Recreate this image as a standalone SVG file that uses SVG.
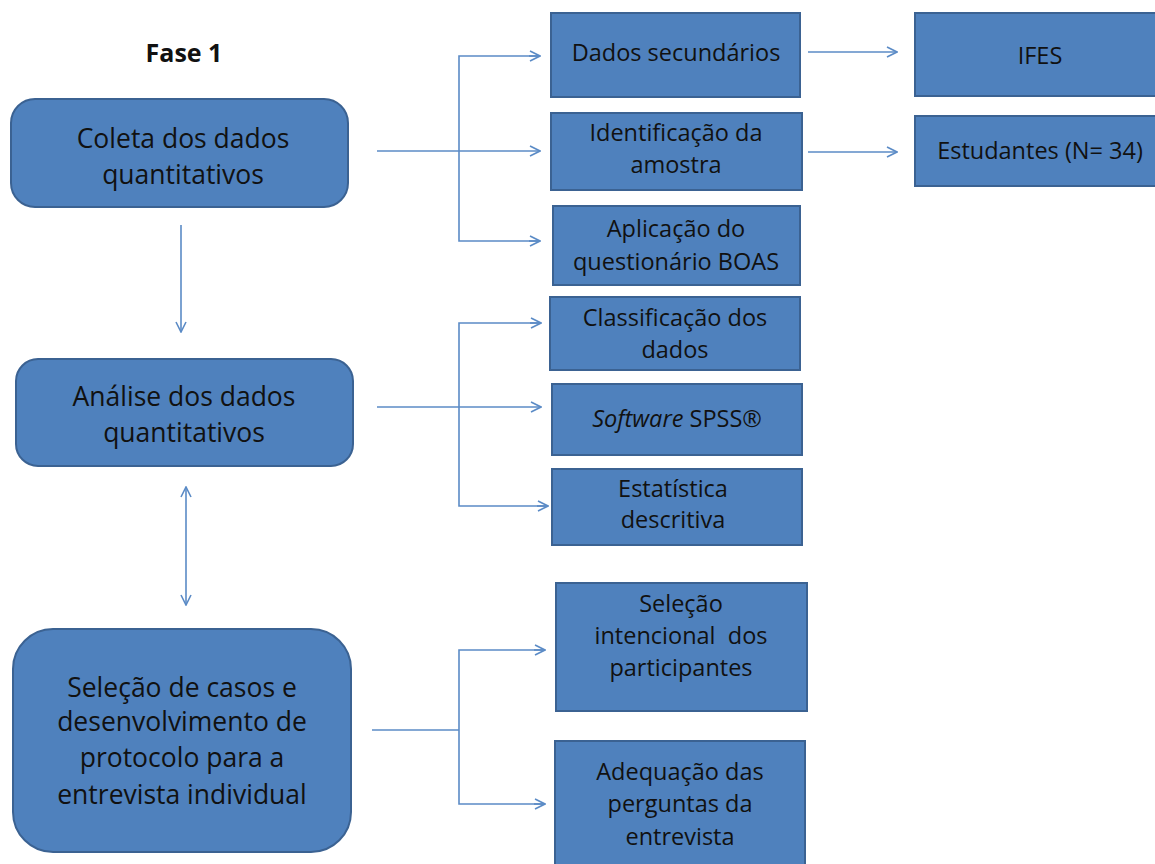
<svg xmlns="http://www.w3.org/2000/svg" width="1155" height="864" viewBox="0 0 1155 864">
<defs>
<style>
.box{fill:#4F81BD;stroke:#3B6292;stroke-width:2}
.t{font-family:"Open Sans",Lato,sans-serif;fill:#111;text-anchor:middle}
.big{font-size:26.5px}
.sm{font-size:23.5px}
.ln{fill:none;stroke:#5B8BC6;stroke-width:1.6}
</style>
<marker id="ah" viewBox="0 0 12 12" refX="11" refY="6" markerWidth="12" markerHeight="12" markerUnits="userSpaceOnUse" orient="auto-start-reverse">
<path d="M1,1 L11,6 L1,11" fill="none" stroke="#5B8BC6" stroke-width="1.6"/>
</marker>
</defs>
<rect width="1155" height="864" fill="#fff"/>
<text class="t" x="184" y="62" style="font-size:25px;font-weight:bold">Fase 1</text>

<g id="connectors">
<line class="ln" x1="181" y1="225" x2="181" y2="332" marker-end="url(#ah)"/>
<line class="ln" x1="186" y1="487" x2="186" y2="605" marker-start="url(#ah)" marker-end="url(#ah)"/>
<line class="ln" x1="377" y1="151" x2="540" y2="151" marker-end="url(#ah)"/>
<polyline class="ln" points="540,56 459,56 459,241 540,241"/>
<line class="ln" x1="529" y1="56" x2="540" y2="56" marker-end="url(#ah)"/>
<line class="ln" x1="529" y1="241" x2="540" y2="241" marker-end="url(#ah)"/>
<line class="ln" x1="808" y1="52" x2="897" y2="52" marker-end="url(#ah)"/>
<line class="ln" x1="808" y1="152" x2="897" y2="152" marker-end="url(#ah)"/>
<line class="ln" x1="377" y1="407" x2="541" y2="407" marker-end="url(#ah)"/>
<polyline class="ln" points="541,323 459,323 459,506 548,506"/>
<line class="ln" x1="530" y1="323" x2="541" y2="323" marker-end="url(#ah)"/>
<line class="ln" x1="537" y1="506" x2="548" y2="506" marker-end="url(#ah)"/>
<polyline class="ln" points="372,730 459,730"/>
<polyline class="ln" points="545,650 459,650 459,804 545,804"/>
<line class="ln" x1="534" y1="650" x2="545" y2="650" marker-end="url(#ah)"/>
<line class="ln" x1="534" y1="804" x2="545" y2="804" marker-end="url(#ah)"/>
</g>

<g id="coleta">
<rect class="box" x="11" y="99" width="337" height="108" rx="24"/>
<text class="t big" x="183" y="148">Coleta dos dados</text>
<text class="t big" x="183" y="184">quantitativos</text>
</g>
<g id="analise">
<rect class="box" x="16" y="359" width="337" height="107" rx="22"/>
<text class="t big" x="184" y="406">Análise dos dados</text>
<text class="t big" x="184" y="442">quantitativos</text>
</g>
<g id="selecao-casos">
<rect class="box" x="13" y="629" width="338" height="223" rx="40"/>
<text class="t big" x="182" y="697">Seleção de casos e</text>
<text class="t big" x="182" y="731">desenvolvimento de</text>
<text class="t big" x="182" y="767">protocolo para a</text>
<text class="t big" x="182" y="804">entrevista individual</text>
</g>

<g id="dados-sec">
<rect class="box" x="551" y="13" width="249" height="84"/>
<text class="t sm" x="676" y="61">Dados secundários</text>
</g>
<g id="identificacao">
<rect class="box" x="551" y="113" width="251" height="77"/>
<text class="t sm" x="676" y="141">Identificação da</text>
<text class="t sm" x="676" y="173">amostra</text>
</g>
<g id="aplicacao">
<rect class="box" x="553" y="206" width="247" height="79"/>
<text class="t sm" x="676" y="237">Aplicação do</text>
<text class="t sm" x="676" y="270">questionário BOAS</text>
</g>
<g id="ifes">
<rect class="box" x="915" y="13" width="245" height="83"/>
<text class="t sm" x="1040" y="64">IFES</text>
</g>
<g id="estudantes">
<rect class="box" x="915" y="116" width="245" height="70"/>
<text class="t sm" x="1040" y="159">Estudantes (N= 34)</text>
</g>
<g id="classificacao">
<rect class="box" x="550" y="297" width="250" height="73"/>
<text class="t sm" x="675" y="326">Classificação dos</text>
<text class="t sm" x="675" y="358">dados</text>
</g>
<g id="software">
<rect class="box" x="552" y="384" width="250" height="71"/>
<text class="t sm" x="677" y="427"><tspan font-style="italic">Software</tspan> SPSS®</text>
</g>
<g id="estatistica">
<rect class="box" x="552" y="469" width="250" height="76"/>
<text class="t sm" x="673" y="497">Estatística</text>
<text class="t sm" x="673" y="528">descritiva</text>
</g>
<g id="selecao-int">
<rect class="box" x="556" y="583" width="251" height="128"/>
<text class="t sm" x="681" y="612">Seleção</text>
<text class="t sm" x="681" y="644" xml:space="preserve">intencional  dos</text>
<text class="t sm" x="681" y="676">participantes</text>
</g>
<g id="adequacao">
<rect class="box" x="555" y="741" width="250" height="130"/>
<text class="t sm" x="680" y="780">Adequação das</text>
<text class="t sm" x="680" y="812">perguntas da</text>
<text class="t sm" x="680" y="845">entrevista</text>
</g>
</svg>
